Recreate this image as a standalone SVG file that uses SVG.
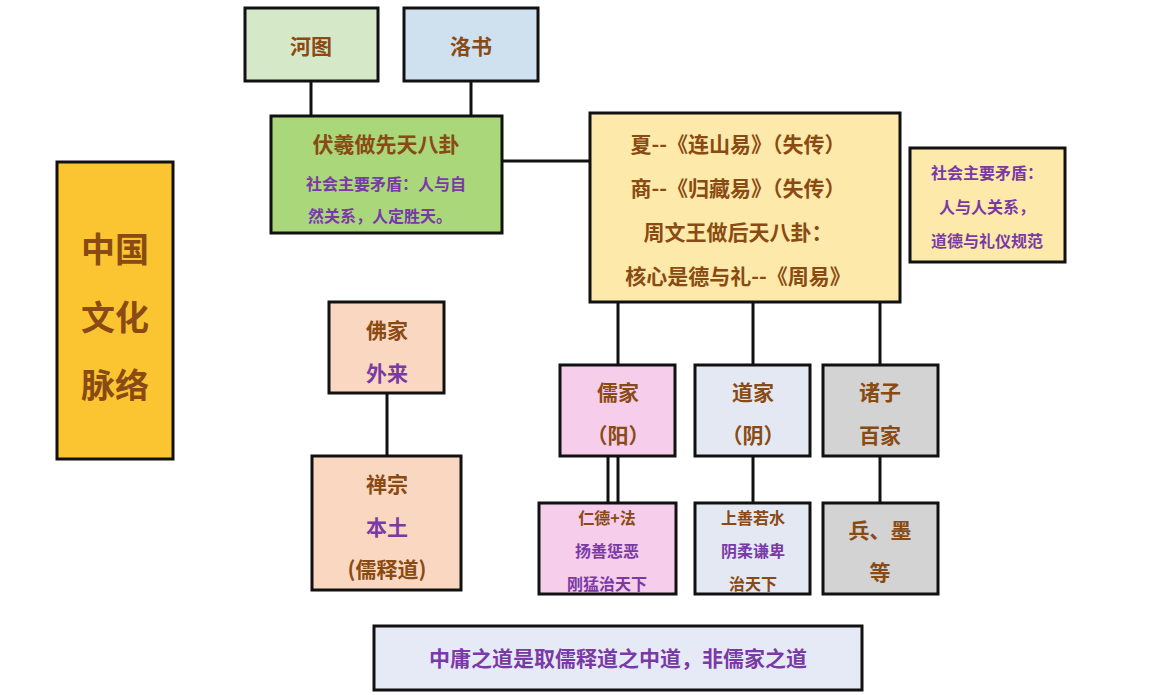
<svg xmlns="http://www.w3.org/2000/svg" width="1157" height="695" viewBox="0 0 1157 695">
<style>
rect{stroke:#111;stroke-width:3}
text{font-family:"Noto Sans CJK SC",sans-serif;font-weight:bold;text-anchor:middle}
.b{fill:#8a4a14}.p{fill:#7a3aa6}
#conn line{stroke:#111;stroke-width:3}
</style>
<rect width="1157" height="695" fill="#fff" style="stroke:none"/>
<g id="conn">
<line x1="311" y1="81" x2="311" y2="116"/><line x1="471" y1="81" x2="471" y2="116"/>
<line x1="502" y1="161" x2="590" y2="161"/>
<line x1="618" y1="302" x2="618" y2="365"/><line x1="753" y1="302" x2="753" y2="365"/><line x1="880" y1="302" x2="880" y2="365"/>
<line x1="608" y1="456" x2="608" y2="503"/><line x1="618" y1="456" x2="618" y2="503"/>
<line x1="753" y1="456" x2="753" y2="503"/><line x1="880" y1="456" x2="880" y2="503"/>
<line x1="387" y1="393" x2="387" y2="456"/>
</g>
<g id="hetu"><rect x="245" y="8" width="133" height="73" fill="#d5e8c8"/><text x="311" y="54" font-size="21" class="b">河图</text></g>
<g id="luoshu"><rect x="404" y="8" width="134" height="73" fill="#cfe0ef"/><text x="471" y="54" font-size="21" class="b">洛书</text></g>
<g id="fuxi"><rect x="271" y="116" width="231" height="117" fill="#a9d77a"/>
<text x="386" y="152" font-size="21" class="b">伏羲做先天八卦</text>
<text x="386" y="190" font-size="16" class="p">社会主要矛盾：人与自</text>
<text x="380" y="222" font-size="16" class="p">然关系，人定胜天。</text></g>
<g id="zhou"><rect x="590" y="113" width="310" height="189" fill="#fde9a9"/>
<text x="738" y="152" font-size="21" class="b">夏--《连山易》（失传）</text>
<text x="738" y="196" font-size="21" class="b">商--《归藏易》（失传）</text>
<text x="738" y="240" font-size="21" class="b">周文王做后天八卦：</text>
<text x="738" y="284" font-size="21" class="b">核心是德与礼--《周易》</text></g>
<g id="note"><rect x="910" y="148" width="155" height="114" fill="#fde9a9"/>
<text x="987" y="179" font-size="16" class="p">社会主要矛盾：</text>
<text x="987" y="213" font-size="16" class="p">人与人关系，</text>
<text x="987" y="247" font-size="16" class="p">道德与礼仪规范</text></g>
<g id="title"><rect x="57" y="162" width="116" height="297" fill="#fbc531"/>
<text x="115" y="262" font-size="34" class="b">中国</text>
<text x="115" y="330" font-size="34" class="b">文化</text>
<text x="115" y="398" font-size="34" class="b">脉络</text></g>
<g id="fojia"><rect x="329" y="302" width="115" height="91" fill="#fad7c0"/>
<text x="387" y="338" font-size="21" class="b">佛家</text><text x="387" y="381" font-size="21" class="p">外来</text></g>
<g id="chan"><rect x="312" y="456" width="149" height="134" fill="#fad7c0"/>
<text x="387" y="492" font-size="21" class="b">禅宗</text><text x="387" y="535" font-size="21" class="p">本土</text><text x="387" y="577" font-size="21" class="b">(儒释道)</text></g>
<g id="ru"><rect x="560" y="365" width="115" height="91" fill="#f6cdea"/>
<text x="618" y="400" font-size="21" class="b">儒家</text><text x="618" y="443" font-size="21" class="b">（阳）</text></g>
<g id="dao"><rect x="695" y="365" width="115" height="91" fill="#e3e8f3"/>
<text x="753" y="400" font-size="21" class="b">道家</text><text x="753" y="443" font-size="21" class="b">（阴）</text></g>
<g id="zhuzi"><rect x="823" y="365" width="115" height="91" fill="#d3d3d3"/>
<text x="880" y="400" font-size="21" class="b">诸子</text><text x="880" y="443" font-size="21" class="b">百家</text></g>
<g id="ren"><rect x="539" y="503" width="137" height="91" fill="#f6cdea"/>
<text x="607" y="524" font-size="16" class="b">仁德+法</text><text x="607" y="557" font-size="16" class="p">扬善惩恶</text><text x="607" y="590" font-size="16" class="p">刚猛治天下</text></g>
<g id="shang"><rect x="695" y="503" width="115" height="91" fill="#e3e8f3"/>
<text x="753" y="524" font-size="16" class="b">上善若水</text><text x="753" y="557" font-size="16" class="p">阴柔谦卑</text><text x="753" y="590" font-size="16" class="b">治天下</text></g>
<g id="bing"><rect x="823" y="503" width="115" height="91" fill="#d3d3d3"/>
<text x="880" y="538" font-size="21" class="b">兵、墨</text><text x="880" y="580" font-size="21" class="b">等</text></g>
<g id="bottom"><rect x="374" y="626" width="488" height="64" fill="#e6eaf6"/>
<text x="618" y="666" font-size="21" class="p">中庸之道是取儒释道之中道，非儒家之道</text></g>
</svg>
